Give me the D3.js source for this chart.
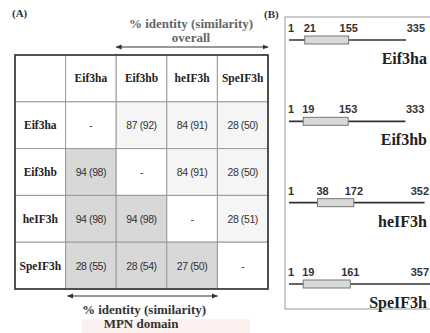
<!DOCTYPE html>
<html><head><meta charset="utf-8">
<script src="https://cdn.jsdelivr.net/npm/d3@7"></script>
<style>html,body{margin:0;padding:0;background:#fff;}svg{display:block;}</style>
</head><body>
<svg id="c" width="430" height="333"></svg>
<script>
// ---- Data ----
const proteins = ["Eif3ha", "Eif3hb", "heIF3h", "SpeIF3h"];
// identity (similarity) matrix: upper triangle = overall, lower triangle = MPN domain
const identity = [
  [null, 87, 84, 28],
  [94, null, 84, 28],
  [94, 94, null, 28],
  [28, 28, 27, null]
];
const similarity = [
  [null, 92, 91, 50],
  [98, null, 91, 50],
  [98, 98, null, 51],
  [55, 54, 50, null]
];
const domainStart = [21, 19, 38, 19];
const domainEnd = [155, 153, 172, 161];
const proteinLength = [335, 333, 352, 357];

const serif = "'Liberation Serif','Times New Roman',serif";
const sans = "'Liberation Sans',Arial,sans-serif";
const svg = d3.select("#c");

// ---- Panel A ----
svg.append("text").attr("x", 12).attr("y", 17).attr("font-family", serif)
  .attr("font-weight", "bold").attr("font-size", 11).attr("fill", "#333").text("(A)");

const cols = ["", ...proteins];
const x = d3.scaleBand().domain(d3.range(5)).range([15, 268]);
const y = d3.scaleBand().domain(d3.range(5)).range([55, 289]);

const cells = [];
for (let r = 0; r < 5; r++) for (let c = 0; c < 5; c++) cells.push({r, c});
const fillOf = d => {
  if (d.r === 0 || d.c === 0) return "#fff";
  const i = d.r - 1, j = d.c - 1;
  if (i > j) return "#d8d8d8";
  if (i < j) return "#f5f5f5";
  return "#fff";
};
svg.append("g").selectAll("rect").data(cells).join("rect")
  .attr("x", d => x(d.c)).attr("y", d => y(d.r))
  .attr("width", x.bandwidth()).attr("height", y.bandwidth())
  .attr("fill", fillOf).attr("stroke", "#9a9a9a").attr("stroke-width", 1);
svg.append("rect").attr("x", 15).attr("y", 55).attr("width", 253).attr("height", 234)
  .attr("fill", "none").attr("stroke", "#333").attr("stroke-width", 1.6);

const tg = svg.append("g");
cells.forEach(d => {
  let txt, font = sans, bold = false;
  if (d.r === 0 && d.c === 0) return;
  if (d.r === 0) { txt = cols[d.c]; font = serif; bold = true; }
  else if (d.c === 0) { txt = proteins[d.r - 1]; font = serif; bold = true; }
  else {
    const i = d.r - 1, j = d.c - 1;
    txt = identity[i][j] == null ? "-" : `${identity[i][j]} (${similarity[i][j]})`;
  }
  tg.append("text").attr("x", x(d.c) + x.bandwidth() / 2).attr("y", y(d.r) + y.bandwidth() / 2 + 4)
    .attr("text-anchor", "middle").attr("font-family", font)
    .attr("font-weight", bold ? "bold" : "normal").attr("font-size", bold ? 11.5 : 10.5)
    .attr("letter-spacing", bold ? 0 : -0.4)
    .attr("fill", bold ? "#222" : "#333").text(txt);
});

// arrows
const defs = svg.append("defs");
defs.append("marker").attr("id", "ah").attr("viewBox", "0 0 10 10").attr("refX", 9).attr("refY", 5)
  .attr("markerWidth", 5).attr("markerHeight", 5).attr("orient", "auto-start-reverse")
  .append("path").attr("d", "M0,1L10,5L0,9z").attr("fill", "#333");

svg.append("line").attr("x1", x(2)).attr("x2", 268).attr("y1", 47).attr("y2", 47)
  .attr("stroke", "#333").attr("stroke-width", 1.2)
  .attr("marker-start", "url(#ah)").attr("marker-end", "url(#ah)");
svg.append("text").attr("x", 191).attr("y", 28).attr("text-anchor", "middle")
  .attr("font-family", serif).attr("font-weight", "bold").attr("font-size", 13).attr("fill", "#666")
  .text("% identity (similarity)");
svg.append("text").attr("x", 191).attr("y", 42).attr("text-anchor", "middle")
  .attr("font-family", serif).attr("font-weight", "bold").attr("font-size", 13).attr("fill", "#666")
  .text("overall");

svg.append("rect").attr("x", 82).attr("y", 319).attr("width", 168).attr("height", 14).attr("fill", "#fcf1ef");
svg.append("line").attr("x1", x(1) + 2).attr("x2", x(4)).attr("y1", 296).attr("y2", 296)
  .attr("stroke", "#333").attr("stroke-width", 1.2)
  .attr("marker-start", "url(#ah)").attr("marker-end", "url(#ah)");
svg.append("text").attr("x", 144).attr("y", 314).attr("text-anchor", "middle")
  .attr("font-family", serif).attr("font-weight", "bold").attr("font-size", 13).attr("fill", "#333")
  .text("% identity (similarity)");
svg.append("text").attr("x", 141).attr("y", 328).attr("text-anchor", "middle")
  .attr("font-family", serif).attr("font-weight", "bold").attr("font-size", 13).attr("fill", "#333")
  .text("MPN domain");

// ---- Panel B ----
svg.append("text").attr("x", 264).attr("y", 18).attr("font-family", serif)
  .attr("font-weight", "bold").attr("font-size", 11).attr("fill", "#333").text("(B)");
svg.append("rect").attr("x", 285).attr("y", 17).attr("width", 160).attr("height", 292)
  .attr("fill", "none").attr("stroke", "#999").attr("stroke-width", 1);

// schematic (not-to-scale) position axis
const px = d3.scaleLinear().domain([1, 20, 40, 160, 335, 357]).range([289, 304, 319, 350, 406, 430]);
const rowY = d3.scalePoint().domain(d3.range(4)).range([40, 284]);

proteins.forEach((p, i) => {
  const cy = rowY(i);
  const g = svg.append("g");
  g.append("line").attr("x1", px(1)).attr("x2", px(proteinLength[i])).attr("y1", cy).attr("y2", cy)
    .attr("stroke", "#333").attr("stroke-width", 1.6);
  g.append("rect").attr("x", px(domainStart[i])).attr("y", cy - 4)
    .attr("width", px(domainEnd[i]) - px(domainStart[i])).attr("height", 8)
    .attr("fill", "#d9d9d9").attr("stroke", "#777").attr("stroke-width", 1);
  const ly = cy - 8;
  const lab = (v, xx, anchor) => g.append("text").attr("x", xx).attr("y", ly).attr("text-anchor", anchor)
    .attr("font-family", sans).attr("font-weight", "bold").attr("font-size", 11).attr("fill", "#333").text(v);
  lab(1, px(1) - 1, "start");
  lab(domainStart[i], px(domainStart[i]) - 1, "start");
  lab(domainEnd[i], px(domainEnd[i]), "middle");
  lab(proteinLength[i], Math.min(px(proteinLength[i]) + 19, 429), "end");
  g.append("text").attr("x", 427).attr("y", cy + 24).attr("text-anchor", "end")
    .attr("font-family", serif).attr("font-weight", "bold").attr("font-size", 16).attr("fill", "#222").text(p);
});
</script>
</body></html>
